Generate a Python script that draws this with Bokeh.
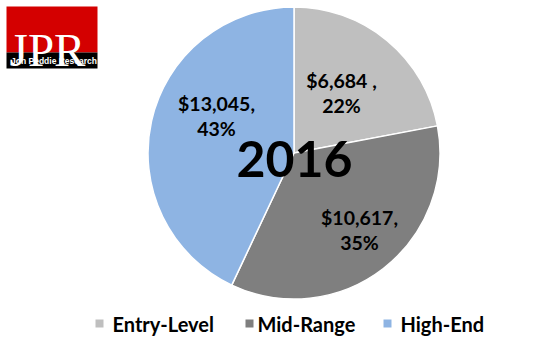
import math
from bokeh.plotting import figure
from bokeh.models import Range1d
from bokeh.core.properties import value
from bokeh.embed import file_html
from bokeh.resources import INLINE

# ---- data ----
categories = ["Entry-Level", "Mid-Range", "High-End"]
revenue = [6684, 10617, 13045]
percent_labels = ["22%", "35%", "43%"]
value_labels = ["$6,684 ,", "$10,617,", "$13,045,"]
colors = ["#BFBFBF", "#7F7F7F", "#8EB4E3"]
year_label = "2016"

W, H = 536, 346
def Y(v):
    return H - v

p = figure(width=W, height=H, output_backend="svg", toolbar_location=None,
           x_range=Range1d(0, W), y_range=Range1d(0, H),
           x_axis_type=None, y_axis_type=None, min_border=0)
p.outline_line_color = None
p.grid.visible = False
p.background_fill_color = "white"
p.border_fill_color = "white"

# ---- pie ----
cx, cy, R = 293.5, 152.5, 146
total = sum(revenue)
start = 0.0
starts, ends = [], []
for v in revenue:
    frac = v / total
    # clockwise from 12 o'clock
    ends.append(math.pi / 2 - start * 2 * math.pi)
    starts.append(math.pi / 2 - (start + frac) * 2 * math.pi)
    start += frac

p.wedge(x=[cx] * 3, y=[Y(cy)] * 3, radius=R, start_angle=starts, end_angle=ends,
        fill_color=colors, line_color="white", line_width=1.5)

# ---- slice labels ----
label_centers = [(341, 92.5), (359, 229.5), (216, 115.5)]
lx = [c[0] for c in label_centers]
ly1 = [Y(c[1] - 12.5) for c in label_centers]
ly2 = [Y(c[1] + 12.5) for c in label_centers]
p.text(x=lx, y=ly1, text=value_labels, text_font=value("Lato"), text_font_style="bold",
       text_font_size="19.5px", text_align="center", text_baseline="middle", text_color="#000000")
p.text(x=lx, y=ly2, text=percent_labels, text_font=value("Lato"), text_font_style="bold",
       text_font_size="19.5px", text_align="center", text_baseline="middle", text_color="#000000")

# ---- center year ----
p.text(x=[294], y=[Y(158.5)], text=[year_label], text_font=value("Lato"), text_font_style="bold",
       text_font_size="50px", text_align="center", text_baseline="middle", text_color="#000000")

# ---- legend ----
sq_x = [99, 249, 387]
txt_x = [112, 257, 400]
ly = Y(323)
p.rect(x=sq_x, y=[ly] * 3, width=8, height=8, fill_color=colors, line_color=None)
p.text(x=txt_x, y=[ly] * 3, text=categories, text_font=value("Lato"), text_font_style="bold",
       text_font_size="20px", text_align="left", text_baseline="middle", text_color="#000000")

# ---- JPR logo ----
p.quad(left=[6], right=[97], top=[Y(6)], bottom=[Y(52)], fill_color="#D40000", line_color=None)
p.quad(left=[6], right=[97], top=[Y(52)], bottom=[Y(68)], fill_color="#000000", line_color=None)
p.text(x=[47], y=[Y(49)], text=["JPR"], text_font=value("Liberation Serif"),
       text_font_size="47px", text_align="center", text_baseline="alphabetic", text_color="white")
p.text(x=[53.5], y=[Y(60.5)], text=["Jon Peddie Research"], text_font=value("Liberation Sans"),
       text_font_style="bold", text_font_size="8.5px", text_align="center",
       text_baseline="middle", text_color="white")

open("out.html", "w").write(file_html(p, INLINE))
